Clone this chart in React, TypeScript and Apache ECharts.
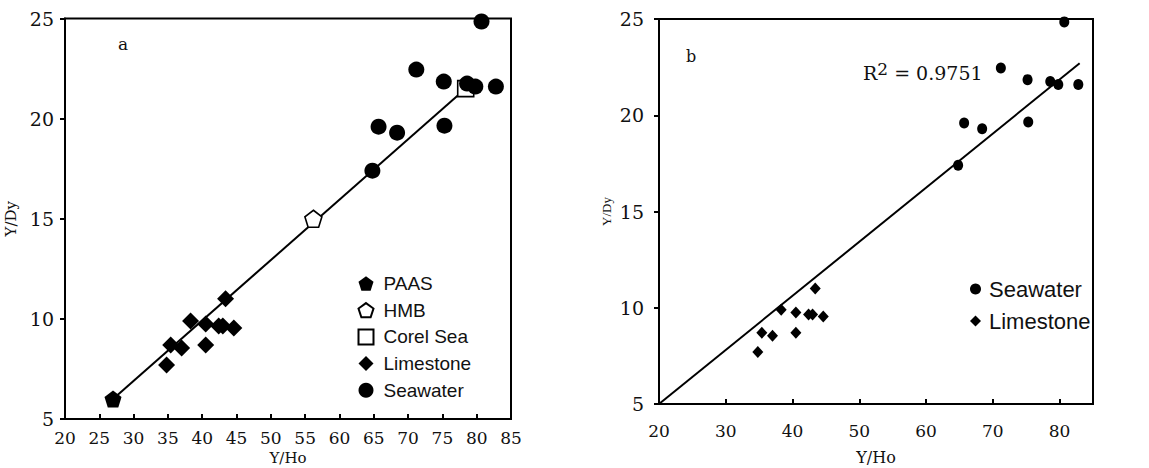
import React, { useEffect, useRef } from "react";
import * as echarts from "echarts";

// ---- data ----
const paas = [[27.0, 6.0]];
const hmb = [[56.2, 15.0]];
const corelSea = [[78.4, 21.5]];
const limestoneX = [34.8, 35.4, 37.0, 38.3, 40.5, 40.5, 42.4, 43.0, 43.4, 44.6];
const limestoneY = [7.7, 8.7, 8.55, 9.9, 9.75, 8.7, 9.65, 9.65, 11.0, 9.55];
const seawaterX = [64.8, 65.7, 68.4, 71.2, 75.2, 75.3, 78.6, 79.8, 80.7, 82.8];
const seawaterY = [17.4, 19.6, 19.3, 22.45, 21.85, 19.65, 21.75, 21.6, 24.85, 21.6];
const mixLineX = [27.0, 78.4];
const mixLineY = [6.0, 21.5];
const fitLineX = [20, 83];
const fitLineY = [5, 22.7];
const r2Value = "0.9751";
const legendA = ["PAAS", "HMB", "Corel Sea", "Limestone", "Seawater"];
const legendB = ["Seawater", "Limestone"];

const zip = (xs: number[], ys: number[]) => xs.map((x, i) => [x, ys[i]]);
const pentagon = "path://M50,0 L97.55,34.55 L79.39,90.45 L20.61,90.45 L2.45,34.55 Z";
const SERIF = "DejaVu Serif";
const SANS = "Liberation Sans";

function xAxisOpt(gridIndex: number, interval: number, labelSize: number, margin: number, nameGap: number, nameSize: number, showMax: boolean) {
  return {
    type: "value",
    gridIndex,
    min: 20,
    max: 85,
    interval,
    name: "Y/Ho",
    nameLocation: "middle",
    nameGap,
    nameTextStyle: { fontFamily: SERIF, fontSize: nameSize, lineHeight: nameSize, color: "#111" },
    axisLine: { show: true, lineStyle: { color: "#000", width: 2 } },
    axisTick: { show: true, inside: true, length: 5, lineStyle: { color: "#000", width: 2 } },
    axisLabel: { fontFamily: SERIF, fontSize: labelSize, color: "#111", margin, showMaxLabel: showMax },
    splitLine: { show: false },
  };
}

function yAxisOpt(gridIndex: number, labelSize: number, margin: number, nameGap: number, nameSize: number, nameFont: string) {
  return {
    type: "value",
    gridIndex,
    min: 5,
    max: 25,
    interval: 5,
    name: "Y/Dy",
    nameLocation: "middle",
    nameRotate: 90,
    nameGap,
    nameTextStyle: { fontFamily: nameFont, fontSize: nameSize, color: "#111" },
    axisLine: { show: true, lineStyle: { color: "#000", width: 2 } },
    axisTick: { show: true, inside: false, length: 5, lineStyle: { color: "#000", width: 2 } },
    axisLabel: { fontFamily: SERIF, fontSize: labelSize, color: "#111", margin },
    splitLine: { show: false },
  };
}

export default function App() {
  const ref = useRef<HTMLDivElement>(null);
  useEffect(() => {
    if (!ref.current) return;
    const chart = echarts.init(ref.current, undefined, { renderer: "svg" });
    const black = { color: "#000", opacity: 1 };
    const hollow = { color: "#fff", borderColor: "#000", borderWidth: 1.6, opacity: 1 };
    chart.setOption({
      animation: false,
      backgroundColor: "#fff",
      grid: [
        { left: 65, top: 18.5, width: 446, height: 400.5, show: true, borderColor: "#000", borderWidth: 2, backgroundColor: "transparent", outerBoundsMode: "none", containLabel: false },
        { left: 659, top: 19, width: 434, height: 385, show: true, borderColor: "#000", borderWidth: 2, backgroundColor: "transparent", outerBoundsMode: "none", containLabel: false },
      ],
      xAxis: [
        xAxisOpt(0, 5, 17, 10, 26, 15, true),
        xAxisOpt(1, 10, 17, 18, 45, 16, false),
      ],
      yAxis: [
        yAxisOpt(0, 19, 11, 47, 15, SERIF),
        yAxisOpt(1, 19, 15, 46, 13, "Liberation Serif"),
      ],
      legend: [
        {
          data: legendA,
          orient: "vertical",
          left: 352.5,
          top: 269,
          itemWidth: 15,
          itemHeight: 15,
          itemGap: 7.7,
          selectedMode: false,
          textStyle: { fontFamily: SANS, fontSize: 19, color: "#111", padding: [0, 0, 0, 5] },
        },
        {
          data: legendB,
          orient: "vertical",
          left: 965,
          top: 273,
          itemWidth: 11,
          itemHeight: 11,
          itemGap: 10,
          selectedMode: false,
          textStyle: { fontFamily: SANS, fontSize: 22, color: "#111", padding: [0, 0, 0, 3] },
        },
      ],
      series: [
        {
          name: "mix-a",
          type: "line",
          xAxisIndex: 0,
          yAxisIndex: 0,
          data: zip(mixLineX, mixLineY),
          symbol: "none",
          silent: true,
          lineStyle: { color: "#000", width: 2 },
          z: 1,
        },
        {
          name: "PAAS",
          type: "scatter",
          xAxisIndex: 0,
          yAxisIndex: 0,
          data: paas,
          symbol: pentagon,
          symbolSize: 17,
          itemStyle: black,
          z: 3,
        },
        {
          name: "HMB",
          type: "scatter",
          xAxisIndex: 0,
          yAxisIndex: 0,
          data: hmb,
          symbol: pentagon,
          symbolSize: 17,
          itemStyle: hollow,
          z: 3,
        },
        {
          name: "Corel Sea",
          type: "scatter",
          xAxisIndex: 0,
          yAxisIndex: 0,
          data: corelSea,
          symbol: "rect",
          symbolSize: 16,
          itemStyle: hollow,
          z: 3,
        },
        {
          name: "Limestone",
          type: "scatter",
          xAxisIndex: 0,
          yAxisIndex: 0,
          data: zip(limestoneX, limestoneY),
          symbol: "diamond",
          symbolSize: 17,
          itemStyle: black,
          z: 3,
        },
        {
          name: "Seawater",
          type: "scatter",
          xAxisIndex: 0,
          yAxisIndex: 0,
          data: zip(seawaterX, seawaterY),
          symbol: "circle",
          symbolSize: 16,
          itemStyle: black,
          z: 4,
        },
        {
          name: "fit-b",
          type: "line",
          xAxisIndex: 1,
          yAxisIndex: 1,
          data: zip(fitLineX, fitLineY),
          symbol: "none",
          silent: true,
          lineStyle: { color: "#000", width: 2 },
          z: 1,
        },
        {
          name: "Seawater",
          type: "scatter",
          xAxisIndex: 1,
          yAxisIndex: 1,
          data: zip(seawaterX, seawaterY),
          symbol: "circle",
          symbolSize: [10, 11],
          itemStyle: black,
          z: 3,
        },
        {
          name: "Limestone",
          type: "scatter",
          xAxisIndex: 1,
          yAxisIndex: 1,
          data: zip(limestoneX, limestoneY),
          symbol: "diamond",
          symbolSize: [11, 12],
          itemStyle: black,
          z: 3,
        },
      ],
      graphic: [
        { type: "text", left: 118, top: 35, style: { text: "a", fontFamily: SERIF, fontSize: 17, fill: "#111" } },
        { type: "text", left: 686, top: 48, style: { text: "b", fontFamily: SERIF, fontSize: 16, fill: "#111" } },
        {
          type: "text",
          left: 863,
          top: 60,
          style: {
            text: "{r|R}{s|2}{r| = " + r2Value + "}",
            fill: "#111",
            rich: {
              r: { fontFamily: SERIF, fontSize: 19, fill: "#111" },
              s: { fontFamily: SERIF, fontSize: 17, fill: "#111", padding: [0, 0, 8, 0] },
            },
          },
        },
      ],
    });
    return () => chart.dispose();
  }, []);
  return (
    <div
      ref={ref}
      style={{ position: "fixed", left: 0, top: 0, width: 1149, height: 468, background: "#fff" }}
    />
  );
}
